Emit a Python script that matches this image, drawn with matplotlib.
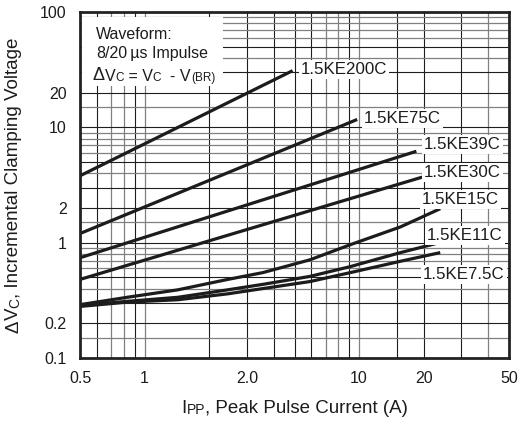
import numpy as np
import matplotlib
matplotlib.use('Agg')
import matplotlib.pyplot as plt
from matplotlib.patches import Rectangle
from matplotlib.transforms import Bbox

plt.rcParams['font.family'] = ['Liberation Sans', 'DejaVu Sans']

# ---------------- data ----------------
series_names = ['1.5KE200C', '1.5KE75C', '1.5KE39C', '1.5KE30C',
                '1.5KE15C', '1.5KE11C', '1.5KE7.5C']

ke200_i = [0.5, 4.9]
ke200_v = [3.8, 31.0]
ke75_i = [0.5, 9.8]
ke75_v = [1.2, 11.7]
ke39_i = [0.5, 18.5]
ke39_v = [0.74, 6.2]
ke30_i = [0.5, 19.7]
ke30_v = [0.48, 3.7]
ke15_i = [0.5, 0.83, 1.43, 2.44, 3.56, 5.9, 9.1, 15.6, 23.9]
ke15_v = [0.29, 0.336, 0.39, 0.48, 0.55, 0.71, 0.96, 1.37, 1.97]
ke11_i = [0.5, 0.83, 1.43, 2.44, 3.56, 5.9, 9.1, 15.6, 24.7]
ke11_v = [0.285, 0.31, 0.336, 0.39, 0.435, 0.51, 0.62, 0.82, 1.02]
ke7_5_i = [0.5, 0.83, 1.43, 2.44, 3.56, 5.9, 9.1, 15.6, 23.9]
ke7_5_v = [0.28, 0.305, 0.32, 0.36, 0.40, 0.46, 0.55, 0.69, 0.82]

x_ticks = [0.5, 1, 3, 10, 20, 50]
x_tick_labels = ['0.5', '1', '2.0', '10', '20', '50']
y_ticks = [0.1, 0.2, 1, 2, 10, 20, 100]
y_tick_labels = ['0.1', '0.2', '1', '2', '10', '20', '100']

x_grid_dark = [0.6, 0.9, 2, 3, 4, 5, 6, 9, 15, 20, 30]
x_grid_grey = [0.7, 0.8, 1, 7, 8, 10, 40]
y_grid_dark = [0.2, 0.3, 0.5, 1, 2, 3, 5, 10, 20, 30, 50]
y_grid_grey = [0.15, 0.4, 0.6, 0.7, 0.8, 0.9, 1.5, 4, 6, 7, 8, 9, 15, 40, 60, 70, 80, 90]

series = [(ke200_i, ke200_v), (ke75_i, ke75_v), (ke39_i, ke39_v),
          (ke30_i, ke30_v), (ke15_i, ke15_v), (ke11_i, ke11_v),
          (ke7_5_i, ke7_5_v)]

# label anchor positions (axes fraction, left / vertical centre)
label_pos = [(0.515, 0.835), (0.662, 0.691), (0.802, 0.618), (0.802, 0.535),
             (0.797, 0.457), (0.809, 0.355), (0.800, 0.240)]

FS = 11.5
FS_S = 8.5
FS_LAB = 12.2
FS_AX = 13.5
FS_AX_S = 10
INK = '#1c1c1c'

fig = plt.figure(figsize=(5.19, 4.21), dpi=100)
ax = fig.add_axes([80 / 519, 1 - 358 / 421, 429 / 519, 346 / 421])
ax.set_xscale('log')
ax.set_yscale('log')
ax.set_xlim(0.5, 50)
ax.set_ylim(0.1, 100)

for v in x_grid_dark:
    ax.axvline(v, color='#1e1e1e', lw=0.8, zorder=1)
for v in x_grid_grey:
    ax.axvline(v, color='#808080', lw=0.9, zorder=1)
for v in y_grid_dark:
    ax.axhline(v, color='#1e1e1e', lw=0.8, zorder=1)
for v in y_grid_grey:
    ax.axhline(v, color='#808080', lw=0.9, zorder=1)

ax.set_xticks(x_ticks)
ax.set_xticklabels(x_tick_labels)
ax.set_yticks(y_ticks)
ax.set_yticklabels(y_tick_labels)
ax.xaxis.set_minor_locator(matplotlib.ticker.NullLocator())
ax.yaxis.set_minor_locator(matplotlib.ticker.NullLocator())
ax.tick_params(length=0, labelsize=FS, colors=INK)
ax.tick_params(axis='x', pad=9.5)
ax.tick_params(axis='y', pad=9.5)
for s in ax.spines.values():
    s.set_linewidth(2.0)
    s.set_color('#222222')
    s.set_zorder(6)

# white panel for the waveform note
ax.add_patch(Rectangle((0.005, 0.786), 0.328, 0.2, transform=ax.transAxes,
                       facecolor='white', edgecolor='none', zorder=2))

for (xi, yi) in series:
    ax.plot(xi, yi, color=INK, lw=2.3, solid_capstyle='butt', zorder=3)

for name, (px, py) in zip(series_names, label_pos):
    ax.text(px, py, name, transform=ax.transAxes, ha='left', va='center',
            fontsize=FS_LAB, color=INK, zorder=4,
            bbox=dict(facecolor='white', edgecolor='none', pad=1.5))


def rich(x, y, pieces, rotation=0, transform=None):
    arts = []
    if rotation == 0:
        t = ax.text(x, y, pieces[0][0], fontsize=pieces[0][1], transform=transform,
                    ha='left', va='baseline', color=INK, zorder=5)
        arts.append(t)
        for s, fs in pieces[1:]:
            a = ax.annotate(s, xy=(1, 0), xycoords=arts[-1], ha='left', va='bottom',
                            fontsize=fs, color=INK, zorder=5)
            arts.append(a)
    else:
        t = ax.text(x, y, pieces[0][0], fontsize=pieces[0][1], transform=transform,
                    ha='right', va='bottom', rotation=90, color=INK, zorder=5)
        arts.append(t)
        for s, fs in pieces[1:]:
            a = ax.annotate(s, xy=(1, 1), xycoords=arts[-1], ha='right', va='bottom',
                            rotation=90, fontsize=fs, color=INK, zorder=5)
            arts.append(a)
    return arts


ta = ax.transAxes
rich(0.037, 0.922, [('Waveform:', FS)], transform=ta)
rich(0.037, 0.867, [('8/20', FS), ('\u2009\u00b5s Impulse', FS)], transform=ta)
rich(0.030, 0.803, [('\u0394', FS + 1.5), ('V', FS), ('C', FS_S), (' = V', FS),
                    ('C', FS_S), ('  - V', FS), ('(BR)', FS_S)], transform=ta)

xl = rich(0.25, -0.159, [('I', FS_AX), ('PP', FS_AX_S), (', Peak Pulse Current (A)', FS_AX)],
          transform=ta)
yl = rich(-0.135, 0.1, [('\u0394', FS_AX), ('V', FS_AX), ('C', FS_AX_S),
                        (', Incremental Clamping Voltage', FS_AX)],
          rotation=90, transform=ta)

# centre the multi-part axis labels on the axes
fig.canvas.draw()
r = fig.canvas.get_renderer()
axbb = ax.get_window_extent(r)
bb = Bbox.union([a.get_window_extent(r) for a in xl])
dx = ((axbb.x0 + axbb.x1) / 2 - (bb.x0 + bb.x1) / 2) / axbb.width
p = xl[0].get_position()
xl[0].set_position((p[0] + dx, p[1]))
bb = Bbox.union([a.get_window_extent(r) for a in yl])
dy = ((axbb.y0 + axbb.y1) / 2 - (bb.y0 + bb.y1) / 2) / axbb.height
p = yl[0].get_position()
yl[0].set_position((p[0], p[1] + dy))

fig.savefig('out.png', dpi=100, facecolor='white')
